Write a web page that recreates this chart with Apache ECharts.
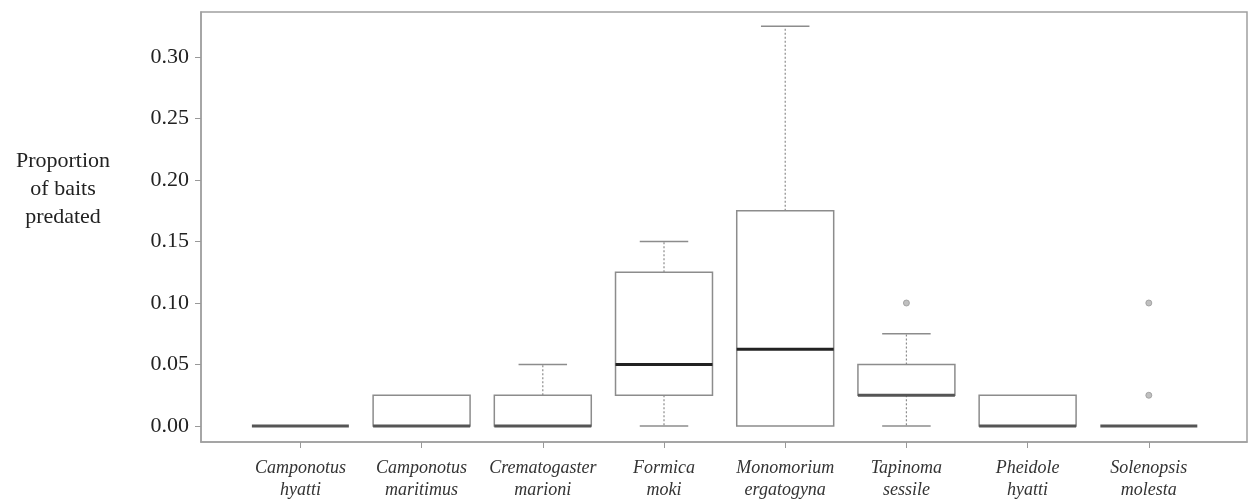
<!DOCTYPE html>
<html>
<head>
<meta charset="utf-8">
<script src="https://cdn.jsdelivr.net/npm/echarts@6/dist/echarts.min.js"></script>
<style>html,body{margin:0;padding:0;background:#fff;}#c{width:1249px;height:502px;}</style>
</head>
<body>
<div id="c"></div>
<script>
const categories = ["Camponotus\nhyatti","Camponotus\nmaritimus","Crematogaster\nmarioni","Formica\nmoki","Monomorium\nergatogyna","Tapinoma\nsessile","Pheidole\nhyatti","Solenopsis\nmolesta"];
const lowerWhisker = [0, 0, 0, 0, 0, 0, 0, 0];
const q1 = [0, 0, 0, 0.025, 0, 0.025, 0, 0];
const median = [0, 0, 0, 0.05, 0.0625, 0.025, 0, 0];
const q3 = [0, 0.025, 0.025, 0.125, 0.175, 0.05, 0.025, 0];
const upperWhisker = [0, 0.025, 0.05, 0.15, 0.325, 0.075, 0.025, 0];
const outliers = [[6, 0.1], [8, 0.1], [8, 0.025]];
const yTicks = [0, 0.05, 0.10, 0.15, 0.20, 0.25, 0.30];
const xTicks = [1, 2, 3, 4, 5, 6, 7, 8];

const boxData = categories.map((c, i) => [i + 1, lowerWhisker[i], q1[i], median[i], q3[i], upperWhisker[i]]);

const chart = echarts.init(document.getElementById('c'), null, {renderer: 'canvas'});
const GREY = '#8c8c8c';
const DARK = '#555555';
const HALF = 0.4, CAP = 0.2;

function renderItem(params, api) {
  const x = api.value(0), lo = api.value(1), a = api.value(2), m = api.value(3), b = api.value(4), hi = api.value(5);
  const L = api.coord([x - HALF, 0])[0], R = api.coord([x + HALF, 0])[0];
  const cL = api.coord([x - CAP, 0])[0], cR = api.coord([x + CAP, 0])[0];
  const cx = api.coord([x, 0])[0];
  const yLo = api.coord([x, lo])[1], yA = api.coord([x, a])[1], yM = api.coord([x, m])[1], yB = api.coord([x, b])[1], yHi = api.coord([x, hi])[1];
  const ch = [];
  if (hi > b) {
    ch.push({type: 'line', shape: {x1: cx, y1: yB, x2: cx, y2: yHi}, style: {stroke: GREY, lineWidth: 1.2, lineDash: [2, 2]}});
    ch.push({type: 'line', shape: {x1: cL, y1: yHi, x2: cR, y2: yHi}, style: {stroke: GREY, lineWidth: 1.5}});
  }
  if (lo < a) {
    ch.push({type: 'line', shape: {x1: cx, y1: yA, x2: cx, y2: yLo}, style: {stroke: GREY, lineWidth: 1.2, lineDash: [2, 2]}});
    ch.push({type: 'line', shape: {x1: cL, y1: yLo, x2: cR, y2: yLo}, style: {stroke: GREY, lineWidth: 1.5}});
  }
  if (b > a) {
    ch.push({type: 'rect', shape: {x: L, y: yB, width: R - L, height: yA - yB}, style: {fill: '#fff', stroke: GREY, lineWidth: 1.5}});
  }
  ch.push({type: 'line', shape: {x1: L, y1: yM, x2: R, y2: yM}, style: {stroke: (m > 0 && m !== a) ? '#222' : DARK, lineWidth: 3}});
  return {type: 'group', children: ch};
}

const option = {
  animation: false,
  backgroundColor: '#fff',
  grid: {left: 201, top: 12, right: 2, bottom: 60, show: true, borderColor: '#a0a0a0', borderWidth: 1.5, backgroundColor: 'transparent'},
  xAxis: {
    type: 'value', min: 0.18, max: 8.81,
    splitLine: {show: false},
    axisLine: {show: true, onZero: false, lineStyle: {color: '#a0a0a0', width: 1.5}},
    axisTick: {show: true, length: 6, customValues: xTicks, lineStyle: {color: '#999'}},
    axisLabel: {
      customValues: xTicks, margin: 15,
      formatter: v => categories[Math.round(v) - 1] || '',
      fontFamily: 'Liberation Serif', fontStyle: 'italic', fontSize: 18, lineHeight: 22, color: '#333'
    }
  },
  yAxis: {
    type: 'value', min: -0.013, max: 0.3366,
    splitLine: {show: false},
    axisLine: {show: true, onZero: false, lineStyle: {color: '#a0a0a0', width: 1.5}},
    axisTick: {show: true, length: 6, customValues: yTicks, lineStyle: {color: '#999'}},
    axisLabel: {
      customValues: yTicks, margin: 12,
      formatter: v => v.toFixed(2),
      fontFamily: 'Liberation Serif', fontSize: 22, color: '#222'
    }
  },
  graphic: [{
    type: 'text', x: 63, y: 147,
    style: {text: 'Proportion\nof baits\npredated', font: '22px "Liberation Serif"', fill: '#222', align: 'center', verticalAlign: 'top', lineHeight: 28}
  }],
  series: [
    {type: 'custom', renderItem: renderItem, data: boxData, encode: {x: 0, y: [1, 2, 3, 4, 5]}, clip: false},
    {type: 'scatter', data: outliers, symbol: 'circle', symbolSize: 6, itemStyle: {color: '#b0b0b0', borderColor: '#999', borderWidth: 1}}
  ]
};
chart.setOption(option);
</script>
</body>
</html>
